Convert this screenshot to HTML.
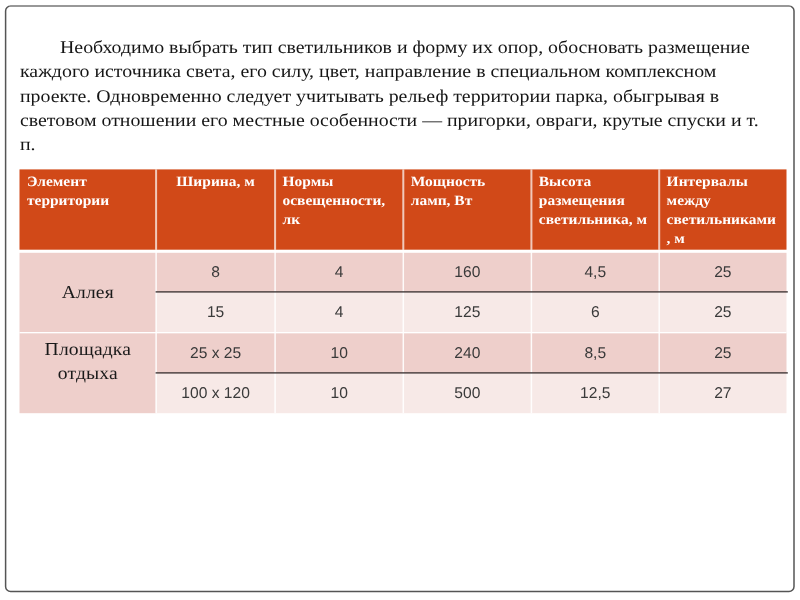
<!DOCTYPE html>
<html lang="ru">
<head>
<meta charset="utf-8">
<title>Слайд</title>
<style>
html,body{margin:0;padding:0;background:#fff;}
body{width:800px;height:600px;position:relative;overflow:hidden;font-family:"Liberation Serif",serif;}
#frame,#tbg{position:absolute;left:0;top:0;}
#para{position:absolute;left:20px;top:35.7px;width:760px;margin:0;font-size:19.85px;line-height:26.944px;color:#151515;text-indent:40px;white-space:nowrap;transform:scaleY(0.9);transform-origin:0 0;text-rendering:geometricPrecision;}
.c{position:absolute;box-sizing:border-box;}
.h{color:#fff;font-weight:bold;font-size:15.5px;line-height:20.109px;padding:5.3px 0 0 7.4px;white-space:nowrap;transform:scaleY(0.92);transform-origin:0 0;text-rendering:geometricPrecision;}
.d{font-family:"Liberation Sans",sans-serif;font-size:15.6px;line-height:24px;height:24px;color:#3a3a3a;text-align:center;text-rendering:geometricPrecision;}
.l{font-size:19.6px;letter-spacing:0.12px;color:#1a1a1a;text-align:center;line-height:24.516px;transform:scaleY(0.93);transform-origin:0 0;text-rendering:geometricPrecision;}
</style>
</head>
<body>
<svg id="frame" width="800" height="600" viewBox="0 0 800 600"><rect x="5.6" y="6.1" width="788.4" height="585.4" rx="5" ry="5" fill="none" stroke="#555" stroke-width="1.5"/><rect x="9" y="4" width="782" height="4" fill="#fff" fill-opacity="0.2"/></svg>
<p id="para">Необходимо выбрать тип светильников и форму их опор, обосновать размещение<br>каждого источника света, его силу, цвет, направление в специальном комплексном<br>проекте. Одновременно следует учитывать рельеф территории парка, обыгрывая в<br>световом отношении его местные особенности — пригорки, овраги, крутые спуски и т.<br>п.</p>
<svg id="tbg" width="800" height="600" viewBox="0 0 800 600">
<rect x="19.5" y="169.4" width="767.00" height="80.30" fill="#d14918"/>
<rect x="19.5" y="252.8" width="136.60" height="160.40" fill="#eecfcb"/>
<rect x="156.1" y="252.8" width="630.40" height="39.10" fill="#eecfcb"/>
<rect x="156.1" y="291.9" width="630.40" height="40.55" fill="#f7e9e7"/>
<rect x="156.1" y="332.45" width="630.40" height="40.45" fill="#eecfcb"/>
<rect x="156.1" y="372.9" width="630.40" height="40.30" fill="#f7e9e7"/>
<rect x="155.10" y="169.4" width="2" height="80.3" fill="#fff" fill-opacity="0.7"/>
<rect x="155.35" y="249.7" width="1.5" height="163.5" fill="#fff" fill-opacity="0.9"/>
<rect x="274.10" y="169.4" width="2" height="80.3" fill="#fff" fill-opacity="0.7"/>
<rect x="274.35" y="249.7" width="1.5" height="163.5" fill="#fff" fill-opacity="0.9"/>
<rect x="402.30" y="169.4" width="2" height="80.3" fill="#fff" fill-opacity="0.7"/>
<rect x="402.55" y="249.7" width="1.5" height="163.5" fill="#fff" fill-opacity="0.9"/>
<rect x="530.40" y="169.4" width="2" height="80.3" fill="#fff" fill-opacity="0.7"/>
<rect x="530.65" y="249.7" width="1.5" height="163.5" fill="#fff" fill-opacity="0.9"/>
<rect x="658.20" y="169.4" width="2" height="80.3" fill="#fff" fill-opacity="0.7"/>
<rect x="658.45" y="249.7" width="1.5" height="163.5" fill="#fff" fill-opacity="0.9"/>
<rect x="19.5" y="332.0" width="767.00" height="1.33" fill="#fff"/>
<rect x="155.60" y="291.23" width="632.20" height="1.33" fill="#3a3030"/>
<rect x="155.60" y="372.23" width="632.20" height="1.33" fill="#3a3030"/>
</svg>
<div class="c h" style="left:19.50px;top:169.40px;width:136.60px;height:80.30px;">Элемент<br>территории</div>
<div class="c h" style="left:156.10px;top:169.40px;width:119.00px;height:80.30px;text-align:center;padding-left:0;">Ширина, м</div>
<div class="c h" style="left:275.10px;top:169.40px;width:128.20px;height:80.30px;">Нормы<br>освещенности,<br>лк</div>
<div class="c h" style="left:403.30px;top:169.40px;width:128.10px;height:80.30px;">Мощность<br>ламп, Вт</div>
<div class="c h" style="left:531.40px;top:169.40px;width:127.80px;height:80.30px;">Высота<br>размещения<br>светильника, м</div>
<div class="c h" style="left:659.20px;top:169.40px;width:127.30px;height:80.30px;">Интервалы<br>между<br>светильниками<br>, м</div>
<div class="c l" style="left:19.50px;top:252.80px;width:136.60px;height:79.65px;padding-top:31.3px;">Аллея</div>
<div class="c l" style="left:19.50px;top:332.45px;width:136.60px;height:80.75px;padding-top:8.0px;">Площадка<br>отдыха</div>
<div class="c d" style="left:156.10px;top:260.9px;width:119.00px;">8</div>
<div class="c d" style="left:275.10px;top:260.9px;width:128.20px;">4</div>
<div class="c d" style="left:403.30px;top:260.9px;width:128.10px;">160</div>
<div class="c d" style="left:531.40px;top:260.9px;width:127.80px;">4,5</div>
<div class="c d" style="left:659.20px;top:260.9px;width:127.30px;">25</div>
<div class="c d" style="left:156.10px;top:300.64px;width:119.00px;">15</div>
<div class="c d" style="left:275.10px;top:300.64px;width:128.20px;">4</div>
<div class="c d" style="left:403.30px;top:300.64px;width:128.10px;">125</div>
<div class="c d" style="left:531.40px;top:300.64px;width:127.80px;">6</div>
<div class="c d" style="left:659.20px;top:300.64px;width:127.30px;">25</div>
<div class="c d" style="left:156.10px;top:341.8px;width:119.00px;">25 x 25</div>
<div class="c d" style="left:275.10px;top:341.8px;width:128.20px;">10</div>
<div class="c d" style="left:403.30px;top:341.8px;width:128.10px;">240</div>
<div class="c d" style="left:531.40px;top:341.8px;width:127.80px;">8,5</div>
<div class="c d" style="left:659.20px;top:341.8px;width:127.30px;">25</div>
<div class="c d" style="left:156.10px;top:381.54px;width:119.00px;">100 x 120</div>
<div class="c d" style="left:275.10px;top:381.54px;width:128.20px;">10</div>
<div class="c d" style="left:403.30px;top:381.54px;width:128.10px;">500</div>
<div class="c d" style="left:531.40px;top:381.54px;width:127.80px;">12,5</div>
<div class="c d" style="left:659.20px;top:381.54px;width:127.30px;">27</div>
</body>
</html>
